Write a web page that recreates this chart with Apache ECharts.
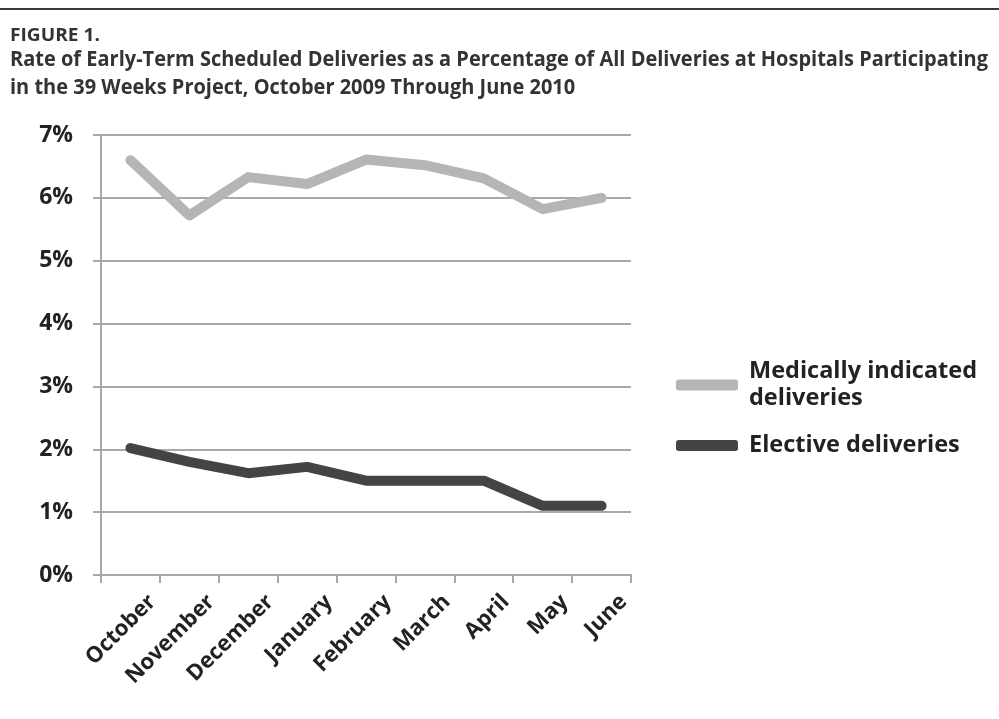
<!DOCTYPE html>
<html><head><meta charset="utf-8">
<script src="https://cdn.jsdelivr.net/npm/echarts@6/dist/echarts.min.js"></script>
<style>html,body{margin:0;padding:0;background:#fff}#c{width:999px;height:719px}</style>
</head><body><div id="c"></div>
<script>
const months = ['October','November','December','January','February','March','April','May','June'];
const medically = [6.6, 5.72, 6.33, 6.22, 6.61, 6.52, 6.31, 5.82, 6.0];
const elective = [2.02, 1.8, 1.62, 1.72, 1.5, 1.5, 1.5, 1.1, 1.1];
const seriesNames = ['Medically indicated\ndeliveries','Elective deliveries'];
const figLabel = 'FIGURE 1.';
const titleLines = ['Rate of Early-Term Scheduled Deliveries as a Percentage of All Deliveries at Hospitals Participating',
                    'in the 39 Weeks Project, October 2009 Through June 2010'];

const titleFont = 'bold 21px "Open Sans", sans-serif';
const figFont = 'bold 18px "Open Sans", sans-serif';
const mc = document.createElement('canvas').getContext('2d');
mc.font = titleFont;
const titleScale = 978 / mc.measureText(titleLines[0]).width;
mc.font = figFont;
const figScale = 90 / mc.measureText(figLabel).width;

const chart = echarts.init(document.getElementById('c'), null, {renderer:'canvas'});
const labelFont = '"Open Sans", sans-serif';
chart.setOption({
  animation:false,
  backgroundColor:'#fff',
  graphic:[
    {type:'line', shape:{x1:0,y1:9,x2:999,y2:9}, style:{stroke:'#3a3a3a',lineWidth:2}},
    {type:'text', x:10, y:27, scaleX:figScale, style:{text:figLabel, font:figFont, fill:'#333', textVerticalAlign:'top'}},
    {type:'text', x:10, y:46, scaleX:titleScale, style:{text:titleLines.join('\n'), font:titleFont, fill:'#333', lineHeight:28, textVerticalAlign:'top'}}
  ],
  grid:{left:101, right:368, top:135, bottom:144, containLabel:false},
  legend:{
    orient:'vertical', left:671, top:353, itemWidth:62, itemHeight:11, itemGap:20,
    icon:'roundRect',
    textStyle:{fontFamily:labelFont, fontWeight:'bold', fontSize:23.5, color:'#222', lineHeight:27, padding:[0,0,0,6]},
    data:seriesNames
  },
  xAxis:{
    type:'category', data:months, boundaryGap:true,
    axisLine:{lineStyle:{color:'#a8a8a8', width:2}},
    axisTick:{show:true, length:8, lineStyle:{color:'#a8a8a8', width:2}},
    axisLabel:{interval:0, rotate:45, margin:10, verticalAlign:'top', lineHeight:50, padding:[0,-6,0,0],
      fontFamily:labelFont, fontWeight:'bold', fontSize:22, color:'#222'}
  },
  yAxis:{
    type:'value', min:0, max:7, interval:1,
    axisLine:{show:true, lineStyle:{color:'#a8a8a8', width:2}},
    axisTick:{show:true, length:8, lineStyle:{color:'#a8a8a8', width:2}},
    splitLine:{lineStyle:{color:'#a8a8a8', width:2}},
    axisLabel:{margin:28, formatter:v=>v+'%', fontFamily:labelFont, fontWeight:'bold', fontSize:23, color:'#222'}
  },
  series:[
    {name:seriesNames[0], type:'line', data:medically, symbol:'none', color:'#b5b5b5',
     lineStyle:{width:10, color:'#b5b5b5', cap:'round', join:'round'}},
    {name:seriesNames[1], type:'line', data:elective, symbol:'none', color:'#444444',
     lineStyle:{width:10, color:'#444444', cap:'round', join:'round'}}
  ]
});
</script></body></html>
